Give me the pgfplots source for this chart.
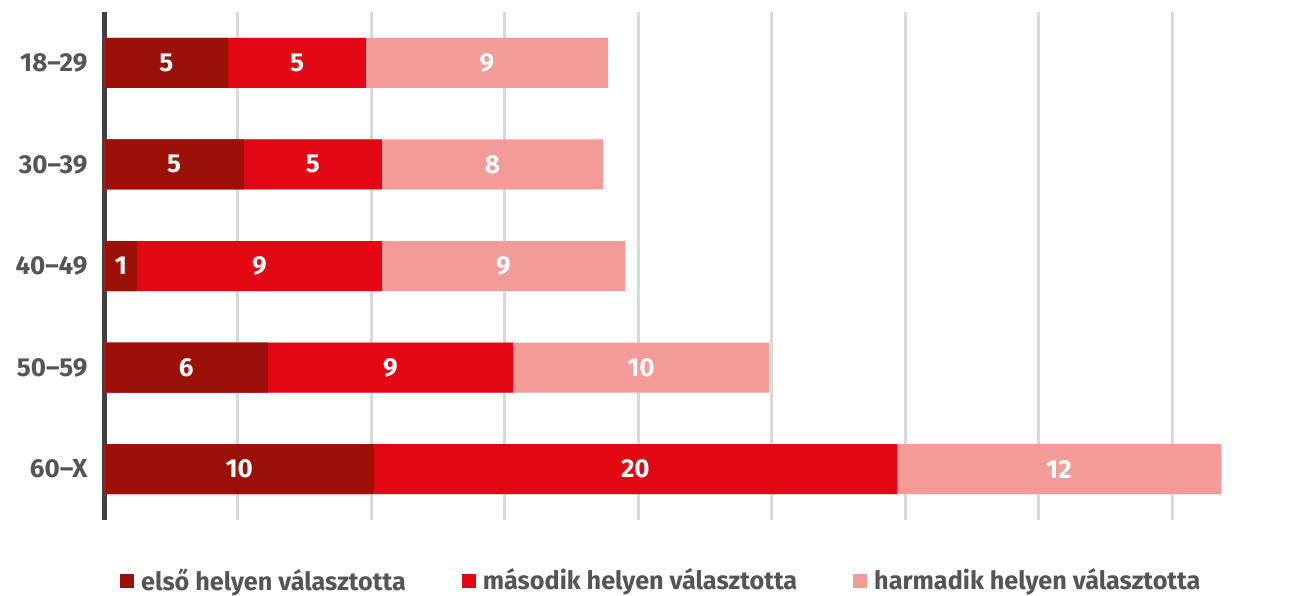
\documentclass[border=0pt]{standalone}
\usepackage{fontspec}
\setmainfont{Fira Sans}
\usepackage{pgfplots}
\pgfplotsset{compat=1.18}
\usepackage{pgfplotstable}

\definecolor{c1}{RGB}{155,16,8}
\definecolor{c2}{RGB}{227,6,19}
\definecolor{c3}{RGB}{242,155,153}
\definecolor{txt}{RGB}{85,85,85}
\definecolor{gridc}{RGB}{217,217,217}
\definecolor{axc}{RGB}{64,64,64}

\tikzset{label node/.style={anchor=center, text=white, font=\bfseries\fontsize{13}{15}\selectfont}}

% segment lengths per age group (labels show rounded values)
\pgfplotstableread{
pos a b c
0 4.63 5.16 9.07
1 5.22 5.17 8.28
2 1.22 9.17 9.10
3 6.12 9.18 9.59
4 10.09 19.59 12.14
}\data

\begin{document}
\begin{tikzpicture}
\useasboundingbox (-52.25pt,-37.5pt) rectangle (600.25pt,260pt);
\begin{axis}[
    scale only axis,
    width=574pt, height=254pt,
    xmin=0, xmax=43,
    ymin=-0.5, ymax=4.5,
    y dir=reverse,
    axis x line=bottom,
    axis y line=left,
    x axis line style={draw=none},
    y axis line style={-, axc, line width=2.5pt},
    xtick={5,10,...,40},
    xticklabels={},
    xmajorgrids,
    grid style={gridc, line width=1.5pt},
    major tick length=0pt,
    ytick={0,1,2,3,4},
    yticklabels={18--29,30--39,40--49,50--59,60--X},
    yticklabel style={txt, font=\bfseries\fontsize{13}{15}\selectfont, xshift=-5pt},
    legend style={at={(0.485,-0.12)}, anchor=center, draw=none,
        font=\bfseries\fontsize{12.6}{14}\selectfont, text=txt,
        nodes={inner xsep=1pt},
        /tikz/every odd column/.append style={column sep=2.5pt},
        /tikz/every even column/.append style={column sep=27pt}},
    legend columns=3,
    legend cell align=left,
    legend image code/.code={\fill[#1] (0pt,-3.5pt) rectangle (7pt,3.5pt);},
]
\addlegendimage{fill=c1, draw=none}
\addlegendimage{fill=c2, draw=none}
\addlegendimage{fill=c3, draw=none}

\addplot[xbar, bar width=25pt, bar shift=0pt, fill=c3, draw=none, forget plot]
    table[x expr=\thisrow{a}+\thisrow{b}+\thisrow{c}, y=pos]{\data};
\addplot[xbar, bar width=25pt, bar shift=0pt, fill=c2, draw=none, forget plot]
    table[x expr=\thisrow{a}+\thisrow{b}, y=pos]{\data};
\addplot[xbar, bar width=25pt, bar shift=0pt, fill=c1, draw=none, forget plot]
    table[x=a, y=pos]{\data};

\addplot[draw=none, forget plot, point meta=explicit,
    nodes near coords={\pgfmathprintnumber[fixed,precision=0,assume math mode=true]{\pgfplotspointmeta}},
    nodes near coords style={label node}]
    table[x expr=\thisrow{a}/2, y=pos, meta=a]{\data};
\addplot[draw=none, forget plot, point meta=explicit,
    nodes near coords={\pgfmathprintnumber[fixed,precision=0,assume math mode=true]{\pgfplotspointmeta}},
    nodes near coords style={label node}]
    table[x expr=\thisrow{a}+\thisrow{b}/2, y=pos, meta=b]{\data};
\addplot[draw=none, forget plot, point meta=explicit,
    nodes near coords={\pgfmathprintnumber[fixed,precision=0,assume math mode=true]{\pgfplotspointmeta}},
    nodes near coords style={label node}]
    table[x expr=\thisrow{a}+\thisrow{b}+\thisrow{c}/2, y=pos, meta=c]{\data};

\legend{első helyen választotta, második helyen választotta, harmadik helyen választotta}
\end{axis}
\end{tikzpicture}
\end{document}
